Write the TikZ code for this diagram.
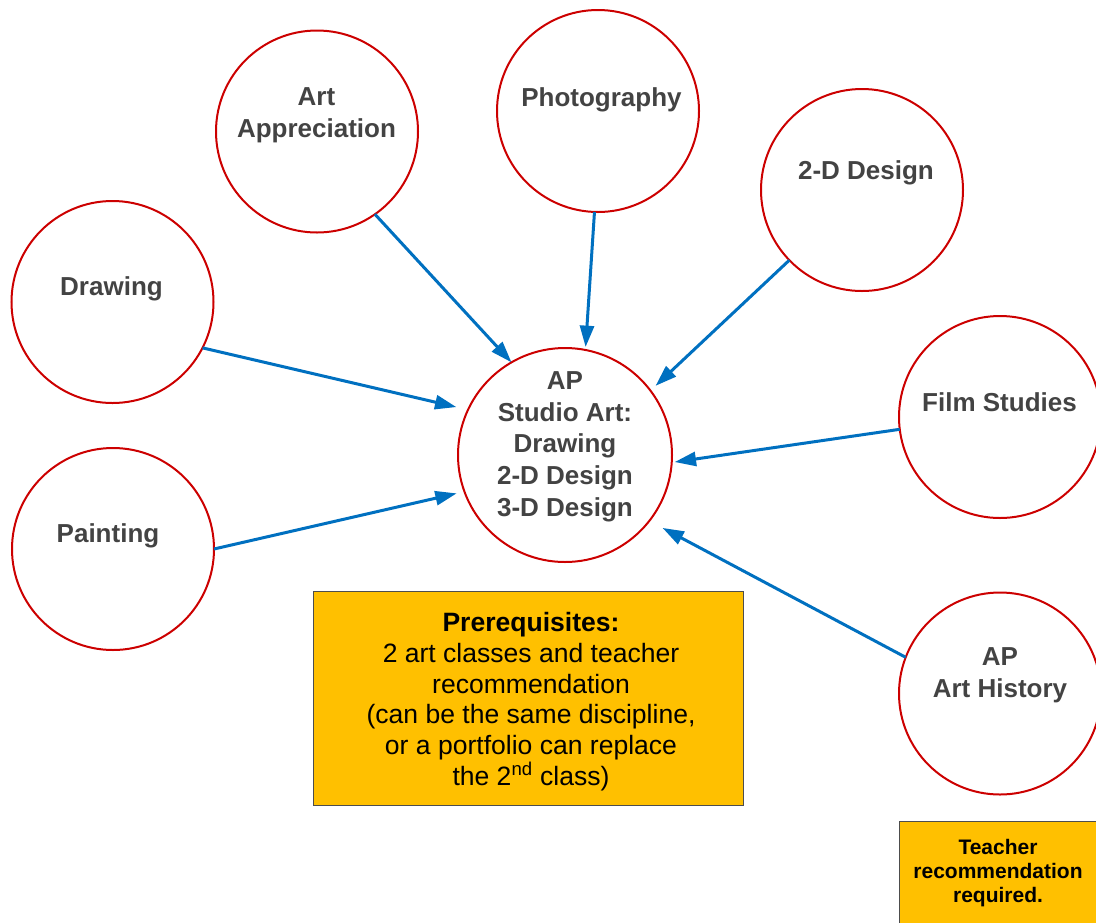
\documentclass[tikz,border=0pt]{standalone}
\usepackage{fontspec}
\setmainfont{Liberation Sans}
\usetikzlibrary{arrows.meta}
\definecolor{circred}{HTML}{CC0000}
\definecolor{txtgray}{HTML}{434343}
\definecolor{arrblue}{HTML}{0070C0}
\definecolor{boxfill}{HTML}{FFC000}
\definecolor{boxline}{HTML}{4D4D4D}
\tikzset{
  circ/.style={circle, draw=circred, line width=1.5pt, minimum size=151.5pt, inner sep=0pt, outer sep=0pt},
  bigcirc/.style={circ, minimum size=160.5pt},
  ctext/.style={inner sep=0pt, outer sep=0pt, align=center, text=txtgray,
    font=\fontsize{19.5pt}{23.8pt}\selectfont\bfseries},
  link/.style={draw=arrblue, line width=2.25pt, -{Triangle[length=16pt, width=10.5pt]}},
  notebox/.style={rectangle, draw=boxline, fill=boxfill, line width=0.75pt, inner sep=0pt, outer sep=0pt, align=center}
}
\begin{document}
\begin{tikzpicture}[x=0.75pt, y=-0.75pt]
\useasboundingbox (0,0) rectangle (1096,922);
% circles
\node[circ] (artapp) at (317,131.5) {};
\node[circ] (photo) at (598,111) {};
\node[circ] (twod) at (862,190) {};
\node[circ] (drawing) at (112.5,302) {};
\node[circ] (film) at (1000,417) {};
\node[circ] (painting) at (113,549) {};
\node[bigcirc] (ap) at (565,455) {};
\node[circ] (apah) at (1000,693.5) {};
% labels
\node[ctext] (artapp-t) at (316.5,115.3) {Art\\Appreciation};
\node[ctext, anchor=base] (photo-t) at (601.5,106) {Photography};
\node[ctext, anchor=base] (twod-t) at (866,179) {2-D Design};
\node[ctext, anchor=base] (drawing-t) at (111.5,295) {Drawing};
\node[ctext, anchor=base] (film-t) at (999.5,411.7) {Film Studies};
\node[ctext, anchor=base] (painting-t) at (108,542.3) {Painting};
\node[ctext] (ap-t) at (565,446.8) {AP\\Studio Art:\\Drawing\\2-D Design\\3-D Design};
\node[ctext] (apah-t) at (1000,675) {AP\\Art History};
% arrows
\draw[link] (artapp.-55) -- (ap.120.6);
\draw[link, shorten >=2.25pt] (photo.-92.8) -- (ap.79.5);
\draw[link, shorten >=5.25pt] (twod.-136.5) -- (ap.37.2);
\draw[link, shorten >=9pt] (drawing.-27.4) -- (ap.155.2);
\draw[link, shorten >=6pt] (painting.0.5) -- (ap.-160.1);
\draw[link, shorten >=2.25pt] (film.-173.8) -- (ap.-4.2);
\draw[link, shorten >=11.25pt] (apah.159) -- (ap.-38);
% boxes
\node[notebox, minimum width=322.5pt, minimum height=160.5pt] (prereq) at (528,698) {};
\node[inner sep=0pt, align=center, font=\fontsize{19.9pt}{23pt}\selectfont] (prereq-t) at (531,701.7)
  {\textbf{Prerequisites:}\\2 art classes and teacher\\recommendation\\(can be the same discipline,\\or a portfolio can replace\\the 2\textsuperscript{nd} class)};
\node[notebox, minimum width=148.5pt, minimum height=78pt, font=\fontsize{15.75pt}{18.2pt}\selectfont\bfseries] (teacher) at (998,873)
  {Teacher\\recommendation\\required.};
\end{tikzpicture}
\end{document}
